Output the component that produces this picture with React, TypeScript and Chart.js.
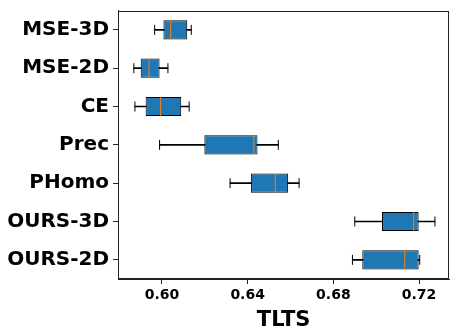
import React, { useEffect, useRef } from "react";
import { Chart, registerables } from "chart.js";

Chart.register(...registerables);

const categories = ["MSE-3D", "MSE-2D", "CE", "Prec", "PHomo", "OURS-3D", "OURS-2D"];
const whiskerLow = [0.5966, 0.5869, 0.5874, 0.5989, 0.6318, 0.6900, 0.6889];
const q1 = [0.6007, 0.5901, 0.5924, 0.6198, 0.6415, 0.7027, 0.6935];
const median = [0.6041, 0.5940, 0.5994, 0.6429, 0.6529, 0.7175, 0.7133];
const q3 = [0.6118, 0.5989, 0.6090, 0.6446, 0.6589, 0.7198, 0.7198];
const whiskerHigh = [0.6137, 0.6028, 0.6127, 0.6543, 0.6640, 0.7274, 0.7203];
const xTicks = [0.6, 0.64, 0.68, 0.72];
const xTickLabels = ["0.60", "0.64", "0.68", "0.72"];
const xLabel = "TLTS";

const FONT = "'DejaVu Sans', sans-serif";

const framePlugin = {
  id: "frame",
  afterDatasetsDraw(chart: any) {
    const { ctx, chartArea } = chart;
    ctx.save();
    ctx.strokeStyle = "#222";
    ctx.lineWidth = 1;
    ctx.strokeRect(
      Math.round(chartArea.left) + 0.5,
      Math.round(chartArea.top) + 0.5,
      Math.round(chartArea.right - chartArea.left) - 1,
      Math.round(chartArea.bottom - chartArea.top) - 1
    );
    ctx.restore();
  },
};

export default function App() {
  const ref = useRef<HTMLCanvasElement | null>(null);
  useEffect(() => {
    document.body.style.margin = "0";
    if (!ref.current) return;
    const capPoints = categories.flatMap((c, i) => [
      { x: whiskerLow[i], y: c },
      { x: whiskerHigh[i], y: c },
    ]);
    const medPoints = categories.map((c, i) => ({ x: median[i], y: c }));
    const chart = new Chart(ref.current, {
      type: "bar",
      data: {
        labels: categories,
        datasets: [
          {
            type: "line",
            data: medPoints as any,
            showLine: false,
            pointStyle: "line",
            rotation: 90,
            pointRadius: 9.7,
            pointBorderColor: "#ff7f0e",
            pointBorderWidth: 1,
            borderColor: "#ff7f0e",
            order: 0,
          } as any,
          {
            type: "bar",
            data: categories.map((_, i) => [q1[i], q3[i]]) as any,
            backgroundColor: "#1f77b4",
            borderColor: "#000",
            borderWidth: 1,
            borderSkipped: false,
            barPercentage: 0.5,
            categoryPercentage: 1,
            grouped: false,
            order: 1,
          } as any,
          {
            type: "line",
            data: capPoints as any,
            showLine: false,
            pointStyle: "line",
            rotation: 90,
            pointRadius: 5,
            pointBorderColor: "#000",
            pointBorderWidth: 1,
            borderColor: "#000",
            order: 2,
          } as any,
          {
            type: "bar",
            data: categories.map((_, i) => [whiskerLow[i], whiskerHigh[i]]) as any,
            backgroundColor: "#000",
            borderWidth: 0,
            barThickness: 1,
            grouped: false,
            order: 3,
          } as any,
        ],
      },
      options: {
        indexAxis: "y",
        responsive: false,
        animation: false,
        events: [],
        layout: { padding: { top: 7, right: 7, left: 0, bottom: 0 } },
        plugins: { legend: { display: false }, tooltip: { enabled: false } },
        scales: {
          x: {
            type: "linear",
            min: 0.5795,
            max: 0.7341,
            afterBuildTicks: (s: any) => {
              s.ticks = xTicks.map((v) => ({ value: v }));
            },
            afterFit: (s: any) => {
              s.height = 54;
              s.paddingLeft = 0;
              s.paddingRight = 0;
            },
            ticks: {
              color: "#000",
              font: { family: FONT, size: 14, weight: "bold" },
              padding: 3,
              maxRotation: 0,
              callback: (v: any) => {
                const i = xTicks.findIndex((t) => Math.abs(t - v) < 1e-9);
                return i >= 0 ? xTickLabels[i] : "";
              },
            },
            grid: { drawOnChartArea: false, tickLength: 5, color: "#222" },
            border: { display: true, color: "#222", width: 1 },
            title: {
              display: true,
              text: xLabel,
              color: "#000",
              font: { family: FONT, size: 21, weight: "bold" },
              padding: { top: 2, bottom: 0 },
            },
          },
          y: {
            type: "category",
            labels: categories,
            offset: true,
            afterFit: (s: any) => {
              s.width = 118;
              s.paddingTop = 0;
              s.paddingBottom = 0;
            },
            ticks: {
              color: "#000",
              font: { family: FONT, size: 20, weight: "bold" },
              padding: 4,
            },
            grid: { drawOnChartArea: false, tickLength: 5, color: "#222", offset: false },
            border: { display: true, color: "#222", width: 1 },
          },
        },
      },
      plugins: [framePlugin],
    });
    return () => chart.destroy();
  }, []);
  return (
    <div style={{ width: 460, height: 333 }}>
      <canvas ref={ref} width={460} height={333} />
    </div>
  );
}
